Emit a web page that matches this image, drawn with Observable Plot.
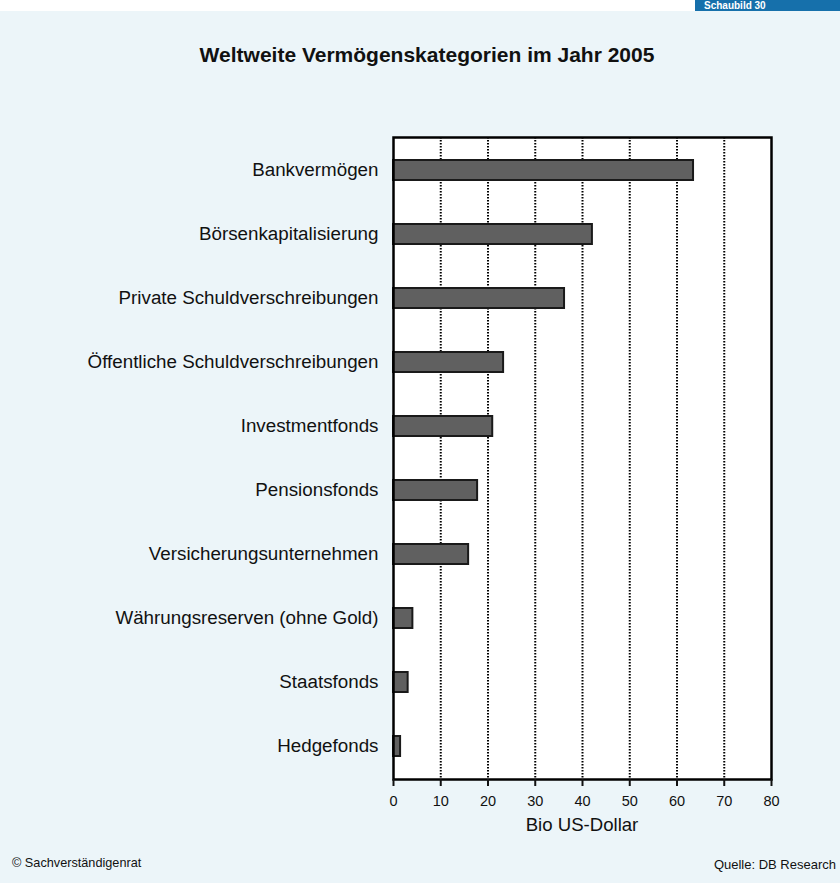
<!DOCTYPE html>
<html><head><meta charset="utf-8">
<script src="https://cdn.jsdelivr.net/npm/d3@7"></script>
<script src="https://cdn.jsdelivr.net/npm/@observablehq/plot@0.6"></script>
<style>
html,body{margin:0;padding:0;}
body{width:840px;height:883px;position:relative;overflow:hidden;background:#fff;font-family:"Liberation Sans",Arial,Helvetica,sans-serif;color:#111;}
#bg{position:absolute;left:0;top:11px;width:840px;height:872px;background:#ecf5f9;}
#tag{position:absolute;left:695px;top:0;width:145px;height:11px;background:#1670ab;overflow:hidden;}
#tag span{position:absolute;left:9px;top:0px;line-height:11px;color:#fff;font-weight:bold;font-size:10px;white-space:nowrap;}
#chart{position:absolute;left:0;top:0;}
#title{position:absolute;top:43px;left:7px;width:840px;text-align:center;font-weight:bold;font-size:21px;}
#xlabel{position:absolute;top:814px;left:162px;width:840px;text-align:center;font-size:18.6px;}
#copy{position:absolute;left:12px;top:856px;font-size:12.7px;}
#src{position:absolute;right:4px;top:857px;font-size:13px;}
</style>
</head><body>
<div id="bg"></div>
<div id="tag"><span>Schaubild 30</span></div>
<div id="chart"></div>
<div id="title">Weltweite Vermögenskategorien im Jahr 2005</div>
<div id="xlabel">Bio US-Dollar</div>
<div id="copy">© Sachverständigenrat</div>
<div id="src">Quelle: DB Research</div>
<script>
const categories = [
  "Bankvermögen",
  "Börsenkapitalisierung",
  "Private Schuldverschreibungen",
  "Öffentliche Schuldverschreibungen",
  "Investmentfonds",
  "Pensionsfonds",
  "Versicherungsunternehmen",
  "Währungsreserven (ohne Gold)",
  "Staatsfonds",
  "Hedgefonds"
];
const values = [63.5, 42.1, 36.2, 23.3, 21.0, 17.8, 15.9, 4.1, 3.1, 1.5];
const xTicks = [0, 10, 20, 30, 40, 50, 60, 70, 80];
const gridTicks = [10, 20, 30, 40, 50, 60, 70];

const data = categories.map((c, i) => ({category: c, value: values[i]}));

const chart = Plot.plot({
  width: 840,
  height: 883,
  marginLeft: 393,
  marginRight: 69,
  marginTop: 137,
  marginBottom: 104,
  style: {background: "transparent", fontFamily: "'Liberation Sans', Arial, sans-serif", color: "#111"},
  x: {domain: [0, 80]},
  y: {domain: categories, paddingInner: 0.69, paddingOuter: 0.345},
  marks: [
    Plot.frame({fill: "white"}),
    Plot.ruleX(gridTicks, {stroke: "black", strokeWidth: 2, strokeDasharray: "1.5,1.5"}),
    Plot.barX(data, {x: "value", y: "category", fill: "#606060", stroke: "#1a1a1a", strokeWidth: 2}),
    Plot.frame({stroke: "black", strokeWidth: 2.5}),
    Plot.axisY({tickSize: 0, tickPadding: 15, fontSize: 18.8, dy: -1, label: null}),
    Plot.axisX({ticks: xTicks, tickSize: 7, tickPadding: 9, fontSize: 14.5, strokeWidth: 2, label: null})
  ]
});
document.getElementById("chart").appendChild(chart);
</script>
</body></html>
